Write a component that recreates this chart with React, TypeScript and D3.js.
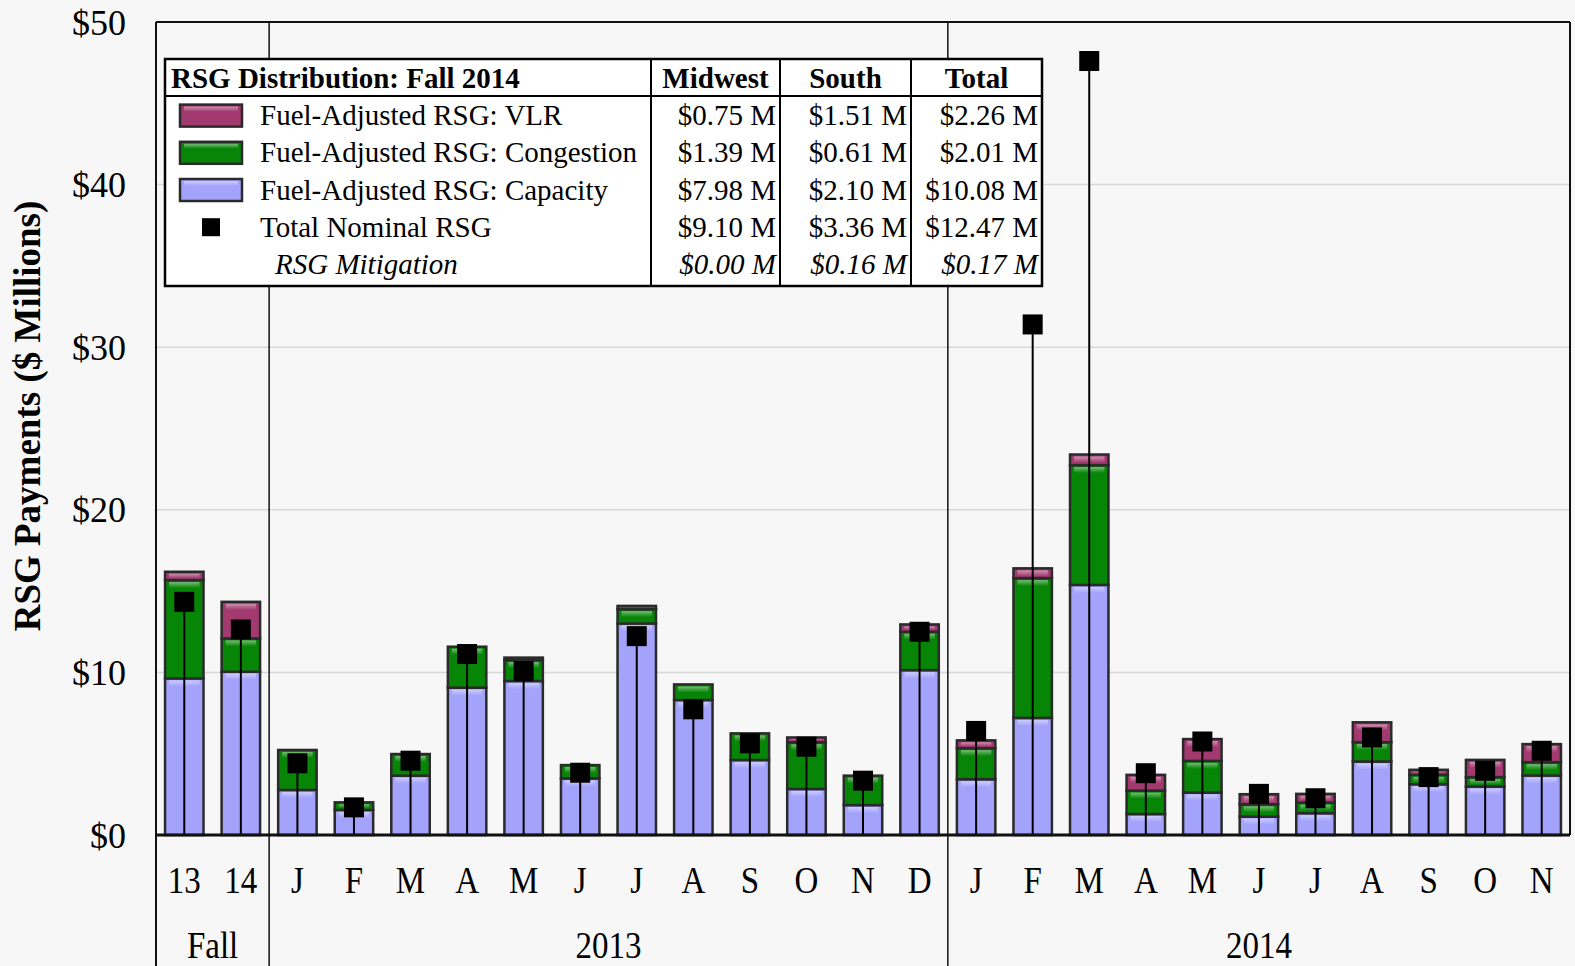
import * as d3 from 'd3';

// month labels, Fall 13 / Fall 14 first, then 2013 and 2014 months
const categories = ['13', '14', 'J', 'F', 'M', 'A', 'M', 'J', 'J', 'A', 'S', 'O', 'N', 'D',
  'J', 'F', 'M', 'A', 'M', 'J', 'J', 'A', 'S', 'O', 'N'];

const capacity = [9.63, 10.04, 2.77, 1.54, 3.65, 9.06, 9.47, 3.48, 13.01, 8.3, 4.61, 2.83, 1.84, 10.14,
  3.43, 7.2, 15.38, 1.29, 2.61, 1.13, 1.34, 4.52, 3.12, 2.98, 3.66];
const congestion = [6.05, 2.05, 2.46, 0.47, 1.33, 2.52, 1.29, 0.82, 0.88, 0.96, 1.64, 2.87, 1.81, 2.36,
  1.91, 8.6, 7.37, 1.44, 1.95, 0.76, 0.65, 1.19, 0.58, 0.58, 0.82];
const vlr = [0.51, 2.25, 0, 0, 0, 0, 0.15, 0, 0.2, 0, 0, 0.3, 0, 0.45,
  0.48, 0.6, 0.65, 0.97, 1.34, 0.62, 0.54, 1.22, 0.31, 1.06, 1.11];
const nominal = [14.34, 12.64, 4.41, 1.7, 4.57, 11.13, 10.08, 3.83, 12.23, 7.73, 5.64, 5.43, 3.34, 12.5,
  6.4, 31.4, 47.6, 3.8, 5.75, 2.53, 2.26, 6.0, 3.56, 3.95, 5.18];

const yTicks = [0, 10, 20, 30, 40, 50];

const groups = [
  { label: 'Fall', from: 0, to: 2 },
  { label: '2013', from: 2, to: 14 },
  { label: '2014', from: 14, to: 25 },
];

const legendLabels = ['Fuel-Adjusted RSG: VLR', 'Fuel-Adjusted RSG: Congestion', 'Fuel-Adjusted RSG: Capacity', 'Total Nominal RSG', 'RSG Mitigation'];
const legendHeaders = ['Midwest', 'South', 'Total'];
const midwest = ['$0.75 M', '$1.39 M', '$7.98 M', '$9.10 M', '$0.00 M'];
const south = ['$1.51 M', '$0.61 M', '$2.10 M', '$3.36 M', '$0.16 M'];
const total = ['$2.26 M', '$2.01 M', '$10.08 M', '$12.47 M', '$0.17 M'];

const colours = { vlr: '#a23a70', congestion: '#078507', capacity: '#a3a3fb' };

const W = 1575;
const H = 966;
const margin = { top: 22, left: 156, right: 5, bottom: 131 };
const font = '"Liberation Serif", "Times New Roman", serif';
const tall = 1.13; // the original's axis labels are a bit stretched vertically

export default function App() {
  const keys = categories.map((_, i) => String(i));
  const x = d3.scaleBand(keys, [margin.left, W - margin.right]).paddingInner(0.32).paddingOuter(0.16);
  const y = d3.scaleLinear([0, 50], [H - margin.bottom, margin.top]);
  const bw = x.bandwidth();

  const series = [
    { key: 'capacity', values: capacity, colour: colours.capacity },
    { key: 'congestion', values: congestion, colour: colours.congestion },
    { key: 'vlr', values: vlr, colour: colours.vlr },
  ];

  const segs: { i: number; y0: number; y1: number; colour: string }[] = [];
  categories.forEach((_, i) => {
    let base = 0;
    series.forEach((s) => {
      const v = s.values[i];
      if (v > 0) segs.push({ i, y0: base, y1: base + v, colour: s.colour });
      base += v;
    });
  });

  const sep = (i: number) => x(String(i))! - (x.step() * x.paddingInner()) / 2;
  const separators = [sep(2), sep(14)];
  const xLeft = margin.left;
  const xRight = W - margin.right;

  // legend table geometry
  const lx = 165, ly = 59, lw = 877, headH = 37, rowH = 37.2;
  const cols = [651, 780, 911, 1042];
  const colVals = [midwest, south, total];
  const fs = 29;

  return (
    <svg width={W} height={H} style={{ position: 'absolute', left: 0, top: 0 }} fontFamily={font}>
      <defs>
        <linearGradient id="shine" x1="0" x2="0" y1="0" y2="1">
          <stop offset="0" stopColor="#fff" stopOpacity="0.45" />
          <stop offset="1" stopColor="#fff" stopOpacity="0" />
        </linearGradient>
      </defs>
      <rect width={W} height={H} fill="#f7f7f7" />

      {yTicks.slice(1, -1).map((t) => (
        <line key={t} x1={xLeft} x2={xRight} y1={y(t)} y2={y(t)} stroke="#d8d8d8" strokeWidth={1.5} />
      ))}

      {/* frame and year separators */}
      <line x1={xLeft} x2={xRight} y1={y(50)} y2={y(50)} stroke="#111" strokeWidth={2} />
      <line x1={xRight} x2={xRight} y1={y(50)} y2={y(0)} stroke="#111" strokeWidth={2} />
      <line x1={xLeft} x2={xLeft} y1={y(50)} y2={H} stroke="#111" strokeWidth={2} />
      {separators.map((s) => (
        <line key={s} x1={s} x2={s} y1={y(50)} y2={H} stroke="#111" strokeWidth={1.5} />
      ))}

      {segs.map((d, k) => {
        const x0 = x(String(d.i))!;
        const top = y(d.y1);
        const h = y(d.y0) - y(d.y1);
        return (
          <g key={k}>
            <rect x={x0} y={top} width={bw} height={h} fill={d.colour} stroke="#2a2a2a" strokeWidth={2.5} />
            <rect x={x0 + 4} y={top + 2} width={bw - 8} height={Math.min(6, Math.max(0, h - 4))} fill="url(#shine)" />
          </g>
        );
      })}

      {nominal.map((v, i) => {
        const cx = x(String(i))! + bw / 2;
        return (
          <g key={i}>
            <line x1={cx} x2={cx} y1={y(0)} y2={y(v)} stroke="#000" strokeWidth={2} />
            <rect x={cx - 10} y={y(v) - 10} width={20} height={20} fill="#000" />
          </g>
        );
      })}

      <line x1={xLeft} x2={xRight} y1={y(0)} y2={y(0)} stroke="#111" strokeWidth={3} />

      {yTicks.map((t) => (
        <text key={t} x={126} y={y(t)} dy="0.35em" textAnchor="end" fontSize={36}>
          ${t}
        </text>
      ))}
      <text transform={`translate(40, 416) rotate(-90)`} textAnchor="middle" fontSize={37} fontWeight="bold">
        RSG Payments ($ Millions)
      </text>

      {categories.map((c, i) => (
        <text key={i} transform={`translate(${x(String(i))! + bw / 2}, 893) scale(1, ${tall})`} textAnchor="middle" fontSize={33}>
          {c}
        </text>
      ))}
      {groups.map((g) => {
        const a = g.from === 0 ? xLeft : sep(g.from);
        const b = g.to === categories.length ? xRight : sep(g.to);
        return (
          <text key={g.label} transform={`translate(${(a + b) / 2}, 958) scale(1, ${tall})`} textAnchor="middle" fontSize={33}>
            {g.label}
          </text>
        );
      })}

      {/* legend table */}
      <g>
        <rect x={lx} y={ly} width={lw} height={headH + rowH * 5 + 4} fill="#fff" stroke="#000" strokeWidth={2.5} />
        <line x1={lx} x2={lx + lw} y1={ly + headH} y2={ly + headH} stroke="#000" strokeWidth={2} />
        {cols.slice(0, 3).map((c) => (
          <line key={c} x1={c} x2={c} y1={ly} y2={ly + headH + rowH * 5 + 4} stroke="#000" strokeWidth={2} />
        ))}
        <text x={171} y={ly + 29} fontSize={fs} fontWeight="bold">RSG Distribution: Fall 2014</text>
        {legendHeaders.map((h, j) => (
          <text key={h} x={(cols[j] + cols[j + 1]) / 2} y={ly + 29} fontSize={fs} fontWeight="bold" textAnchor="middle">
            {h}
          </text>
        ))}
        {legendLabels.map((lab, r) => {
          const cy = ly + headH + rowH * r + rowH / 2 + 1;
          const italic = r === 4;
          const swatch = [colours.vlr, colours.congestion, colours.capacity][r];
          return (
            <g key={lab}>
              {swatch && (
                <g>
                  <rect x={180} y={cy - 11} width={62} height={22} fill={swatch} stroke="#2a2a2a" strokeWidth={2.5} />
                  <rect x={184} y={cy - 9} width={54} height={5} fill="url(#shine)" />
                </g>
              )}
              {r === 3 && <rect x={202} y={cy - 9} width={18} height={18} fill="#000" />}
              <text x={italic ? 275 : 260} y={cy} dy="0.33em" fontSize={fs} fontStyle={italic ? 'italic' : 'normal'}>
                {lab}
              </text>
              {colVals.map((vals, j) => (
                <text key={j} x={cols[j + 1] - 4} y={cy} dy="0.33em" fontSize={fs} textAnchor="end" fontStyle={italic ? 'italic' : 'normal'}>
                  {vals[r]}
                </text>
              ))}
            </g>
          );
        })}
      </g>
    </svg>
  );
}
